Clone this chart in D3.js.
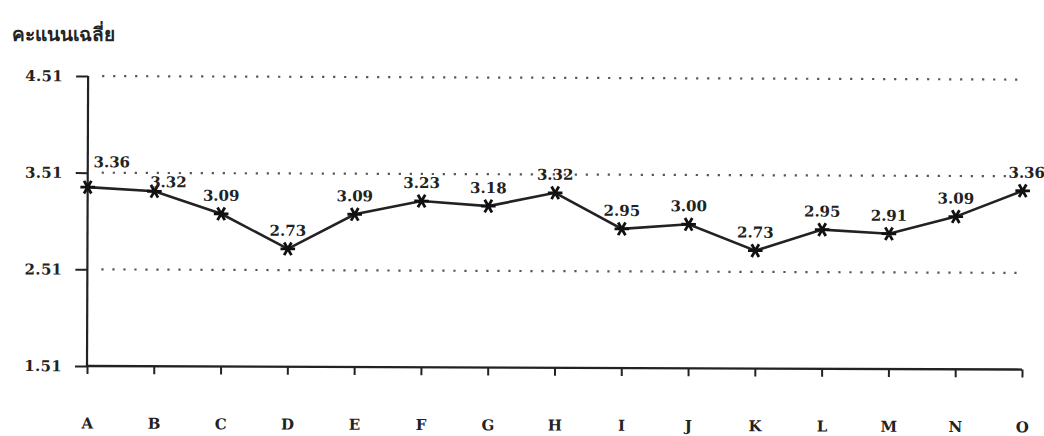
<!DOCTYPE html>
<html><head><meta charset="utf-8">
<script src="https://cdn.jsdelivr.net/npm/d3@7"></script>
<style>
body{margin:0;background:#fff;}
text{font-family:"DejaVu Serif","Liberation Serif",serif;fill:#222;}
</style></head>
<body>
<svg id="c" width="1044" height="436"></svg>
<script>
const categories = ["A","B","C","D","E","F","G","H","I","J","K","L","M","N","O"];
const values = [3.36,3.32,3.09,2.73,3.09,3.23,3.18,3.32,2.95,3.00,2.73,2.95,2.91,3.09,3.36];
const valueLabels = ["3.36","3.32","3.09","2.73","3.09","3.23","3.18","3.32","2.95","3.00","2.73","2.95","2.91","3.09","3.36"];
const yTicks = [1.51,2.51,3.51,4.51];
const yTitle = "คะแนนเฉลี่ย";

const svg = d3.select("#c");
const g = svg.append("g").attr("transform","rotate(0.22,87,366)");
const x = d3.scalePoint().domain(categories).range([87,1022]);
const y = d3.scaleLinear().domain([1.51,4.51]).range([366,76]);

// gridlines
g.append("g").selectAll("line").data(yTicks.slice(1)).join("line")
  .attr("x1",101).attr("x2",1022)
  .attr("y1",d=>y(d)).attr("y2",d=>y(d))
  .attr("stroke","#555").attr("stroke-width",2.2)
  .attr("stroke-dasharray","2.2,8.8");

// y axis
const ya = g.append("g").attr("transform","translate(87,0)")
  .call(d3.axisLeft(y).tickValues(yTicks).tickFormat(d3.format(".2f")).tickSize(12).tickPadding(13));
ya.select(".domain").attr("stroke","#222").attr("stroke-width",2.2).attr("d",`M0,${y(4.51)}V${y(1.51)}`);
ya.selectAll(".tick line").attr("stroke","#222").attr("stroke-width",2);
ya.selectAll(".tick text").style("font-size","15px").style("font-weight","bold").style("letter-spacing","0.3px").attr("fill","#3a3a3a");

// x axis
const xa = g.append("g").attr("transform",`translate(0,${y(1.51)})`)
  .call(d3.axisBottom(x).tickSize(8).tickPadding(44));
xa.select(".domain").attr("stroke","#222").attr("stroke-width",2.4).attr("d",`M87,0H1022`);
xa.selectAll(".tick line").attr("stroke","#222").attr("stroke-width",2);
xa.selectAll(".tick text").style("font-size","15px").style("font-weight","bold").attr("fill","#3a3a3a");

// title
svg.append("text").attr("x",12).attr("y",41).text(yTitle)
  .style("font-family","'Noto Sans','DejaVu Sans',sans-serif").style("font-size","19px").style("font-weight","bold").attr("fill","#3a3a3a");

// line
const line = d3.line().x((d,i)=>x(categories[i])).y(d=>y(d));
g.append("path").datum(values).attr("d",line)
  .attr("fill","none").attr("stroke","#222").attr("stroke-width",2.6);

// markers: X with horizontal bar
const star = d3.symbol().type(d3.symbolAsterisk).size(150);
g.append("g").selectAll("path").data(values).join("path")
  .attr("d",star)
  .attr("transform",(d,i)=>`translate(${x(categories[i])},${y(d)}) rotate(90)`)
  .attr("stroke","#111").attr("stroke-width",2.8).attr("fill","none");

// value labels
const dx = i => i===0 ? 24 : (i===1 ? 14 : (i===14 ? 4 : 0));
const dy = i => i===0 ? 20 : (i===1 ? 4 : 13);
g.append("g").selectAll("text").data(values).join("text")
  .attr("x",(d,i)=>x(categories[i]) + dx(i))
  .attr("y",(d,i)=>y(d) - dy(i))
  .attr("text-anchor","middle")
  .style("font-size","15px").style("font-weight","bold").attr("fill","#3a3a3a")
  .text((d,i)=>valueLabels[i]);
</script>
</body></html>
